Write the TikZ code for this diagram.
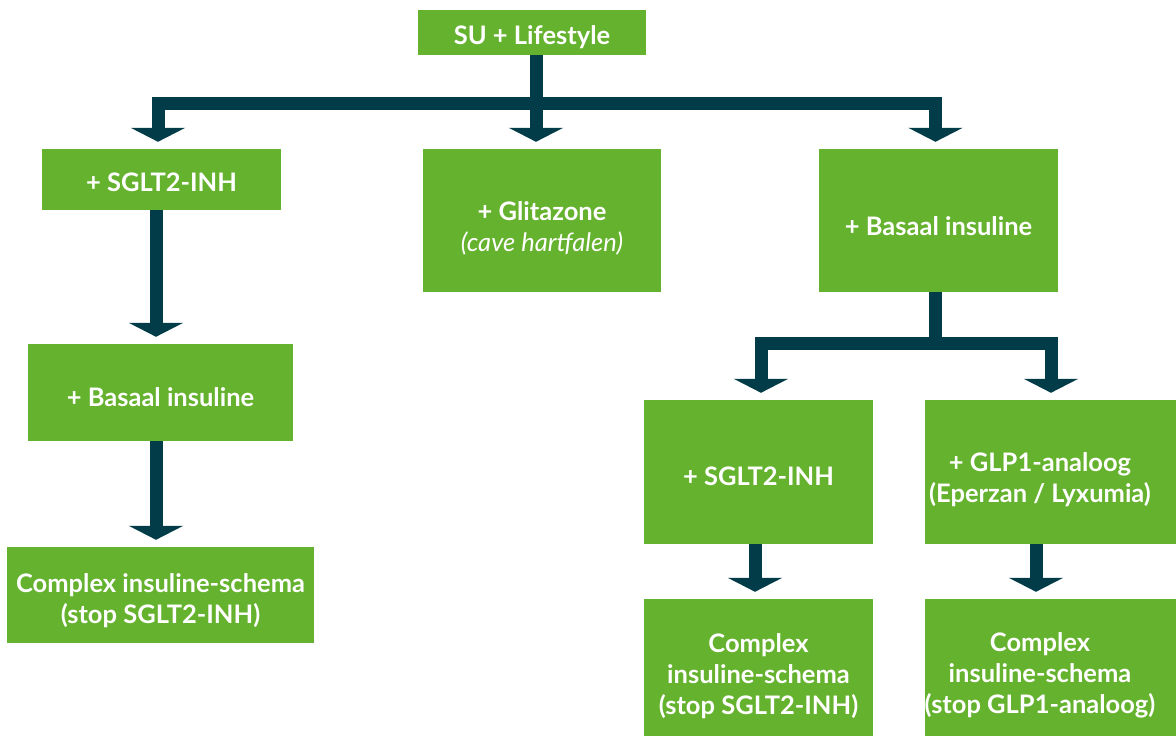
\documentclass[tikz,border=0pt]{standalone}
\usepackage{fontspec}
\setmainfont{Lato}
\usetikzlibrary{arrows.meta}
\definecolor{leafgreen}{HTML}{65B22E}
\definecolor{deepteal}{HTML}{023C48}
\def\offtext#1{\hspace*{-21pt}\parbox{251pt}{\centering #1}}
\tikzset{
  stepbox/.style={fill=leafgreen, text=white, font=\bfseries\fontsize{25.5}{31}\selectfont, align=center, inner sep=0pt, text height=28pt},
  flow/.style={draw=deepteal, line width=13pt, line cap=butt, line join=miter, shorten >=7pt, -{Triangle[width=54pt,length=14pt]}}
}
\begin{document}
\begin{tikzpicture}[x=1pt,y=-1pt]
\useasboundingbox (0,0) rectangle (1176,738);
% boxes
\node[stepbox, minimum width=228pt, minimum height=45pt] (su) at (532,32.5) {SU + Lifestyle};
\node[stepbox, minimum width=239pt, minimum height=61pt, text height=24pt] (sglt) at (161.5,179.5) {+ SGLT2-INH};
\node[stepbox, minimum width=238pt, minimum height=143pt, text height=66pt] (glit) at (542,220.5) {+ Glitazone\\{\mdseries\itshape (cave hartfalen)}};
\node[stepbox, minimum width=239pt, minimum height=143pt, text height=30pt] (basR) at (938.5,220.5) {+ Basaal insuline};
\node[stepbox, minimum width=265pt, minimum height=97pt] (basL) at (160.5,392.5) {+ Basaal insuline};
\node[stepbox, minimum width=307pt, minimum height=96pt, text height=62pt] (cplxL) at (160.5,595) {Complex insuline-schema\\(stop SGLT2-INH)};
\node[stepbox, minimum width=229pt, minimum height=144pt] (sgltR) at (758.5,472) {+ SGLT2-INH};
\node[stepbox, minimum width=251pt, minimum height=144pt, text height=48pt] (glp) at (1050.5,472) {\offtext{+ GLP1-analoog\\(Eperzan / Lyxumia)}};
\node[stepbox, minimum width=229pt, minimum height=137pt, text height=99pt] (cplxA) at (758.5,667.5) {Complex\\insuline-schema\\(stop SGLT2-INH)};
\node[stepbox, minimum width=251pt, minimum height=137pt, text height=65pt] (cplxB) at (1050.5,667.5) {\offtext{Complex\\insuline-schema\\(stop GLP1-analoog)}};
% arrows
\coordinate (hubT) at (536,103.5);
\draw[flow] (su.south -| hubT) -- (hubT) -| ([xshift=-3.5pt]sglt.north);
\draw[flow] (hubT) -- (hubT |- glit.north);
\draw[flow] (hubT) -| ([xshift=-3pt]basR.north);
\draw[flow] ([xshift=-5.5pt]sglt.south) -- ([xshift=-5.5pt]sglt.south |- basL.north);
\draw[flow] ([xshift=-4.5pt]basL.south) -- ([xshift=-4.5pt]basL.south |- cplxL.north);
\coordinate (hubR) at (935.5,343.5);
\draw[flow] (basR.south -| hubR) -- (hubR) -| ([xshift=2.5pt]sgltR.north);
\draw[flow] (hubR) -| ([xshift=0.5pt]glp.north);
\draw[flow] ([xshift=-3.5pt]sgltR.south) -- ([xshift=-3.5pt]sgltR.south |- cplxA.north);
\draw[flow] ([xshift=-14.5pt]glp.south) -- ([xshift=-14.5pt]glp.south |- cplxB.north);
\end{tikzpicture}
\end{document}
